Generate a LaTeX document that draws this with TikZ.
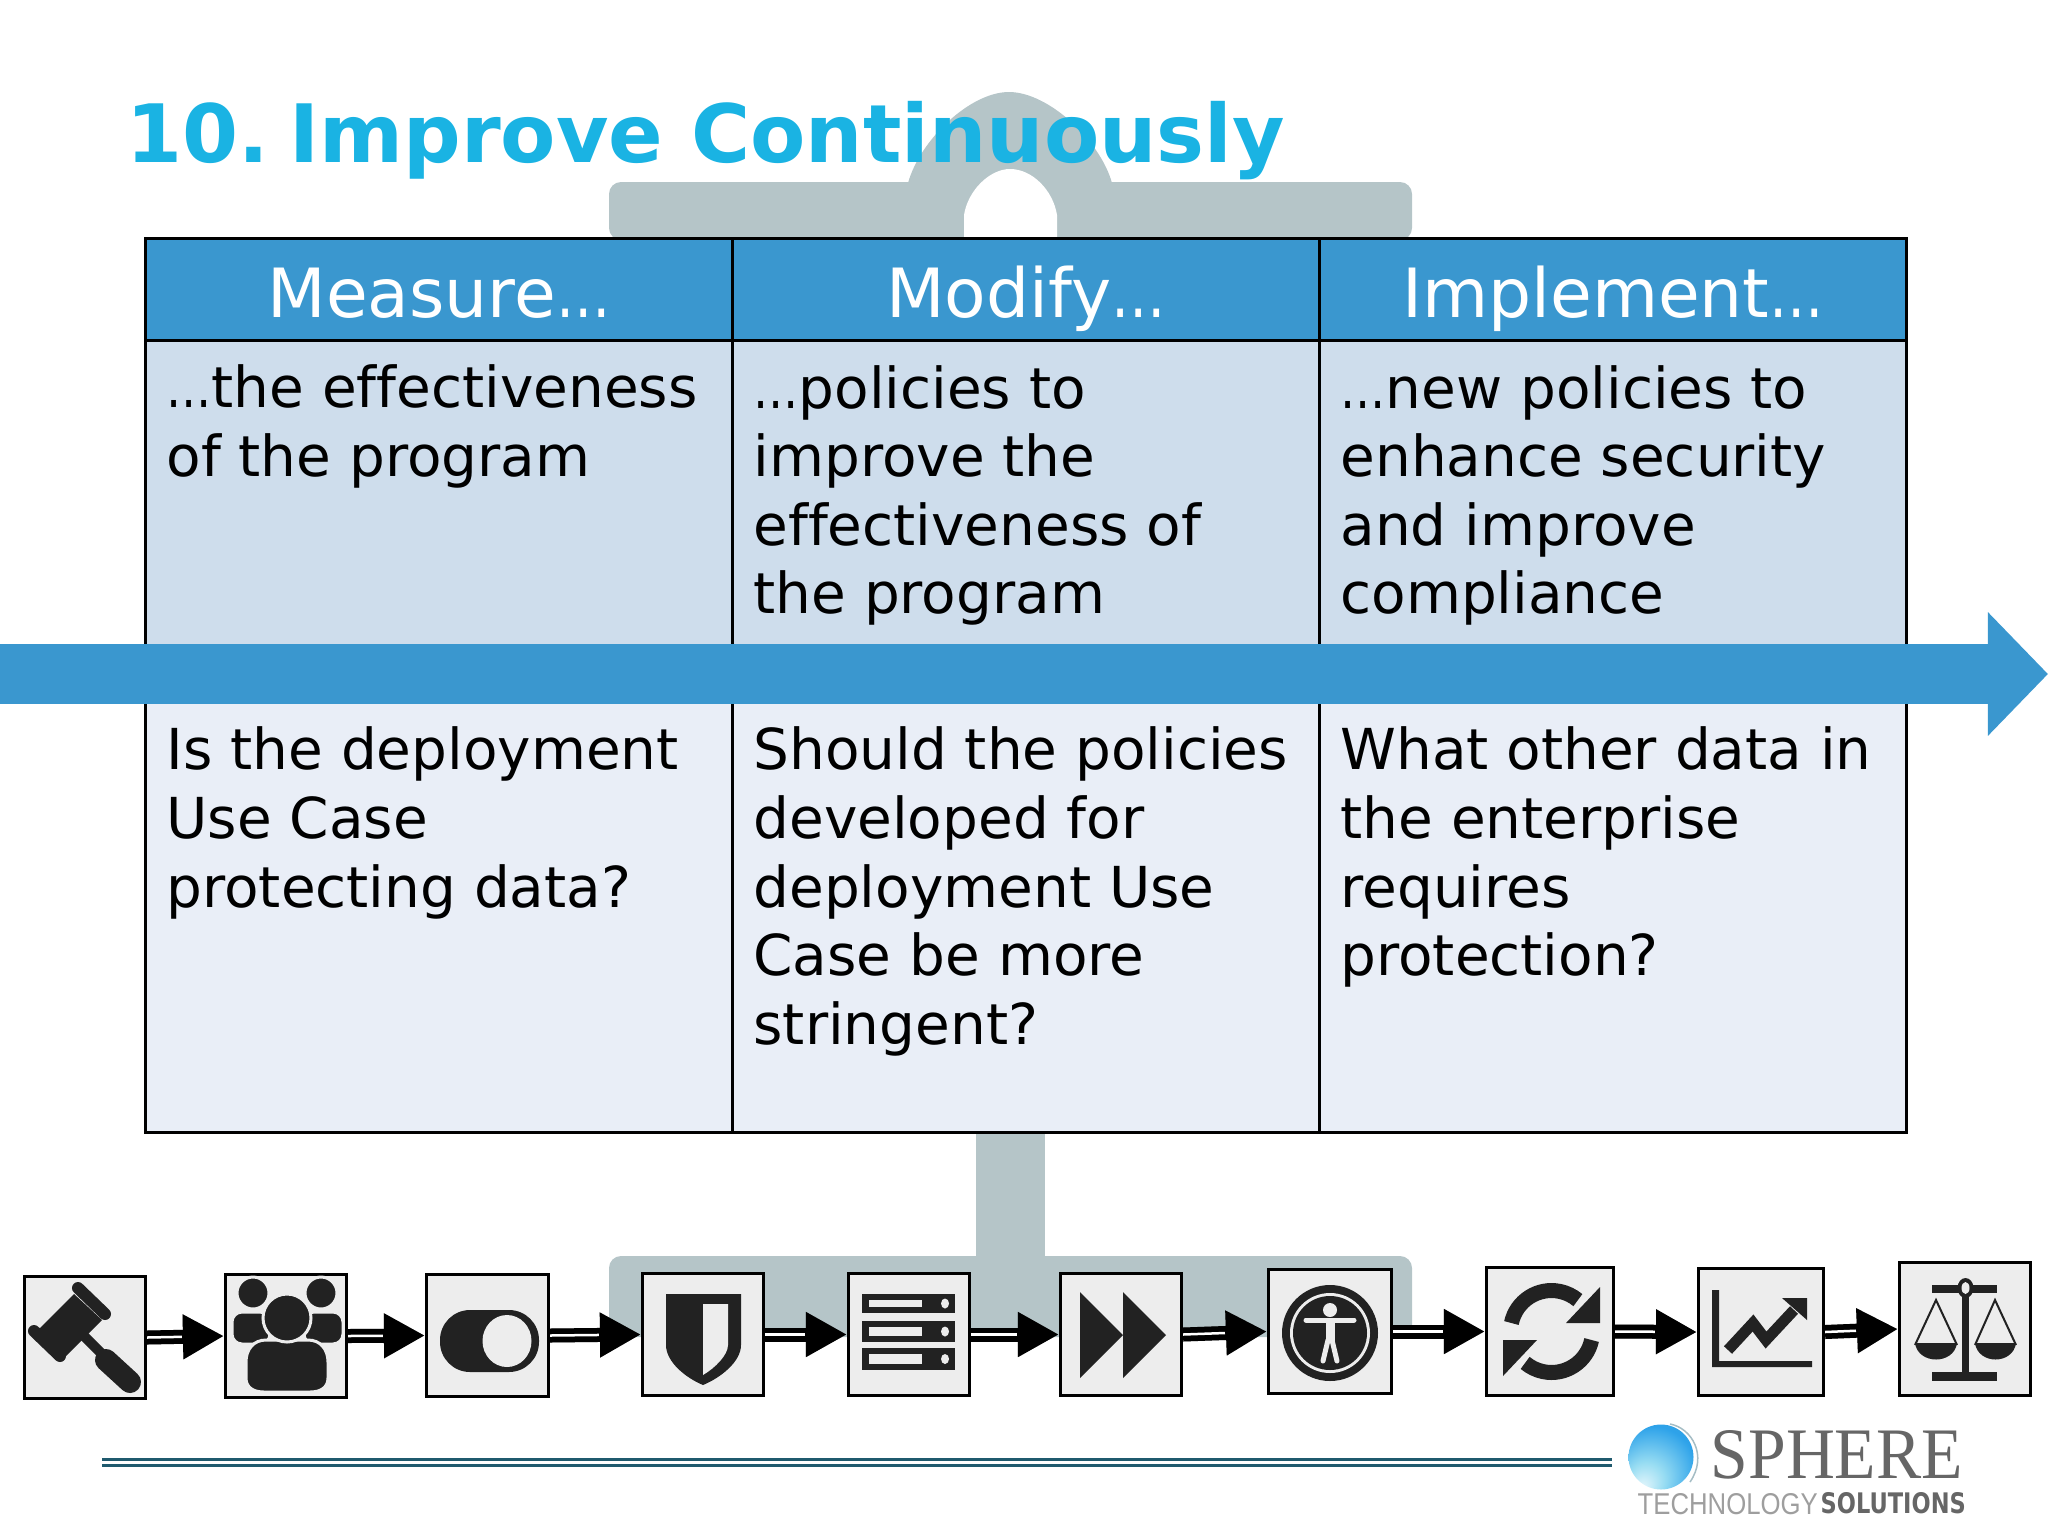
\documentclass[tikz,border=0pt]{standalone}
\usepackage{fontspec}
\setmainfont[Ligatures=NoCommon]{DejaVu Sans}
\newfontfamily\logoserif{Liberation Serif}
\newfontfamily\logosans{Liberation Sans}
\usetikzlibrary{arrows.meta}

\definecolor{titleblue}{HTML}{1AB3E3}
\definecolor{bandblue}{HTML}{3A97CF}
\definecolor{rowdark}{HTML}{CEDDEC}
\definecolor{rowlight}{HTML}{E9EEF7}
\definecolor{backdrop}{HTML}{B5C5C8}
\definecolor{iconbg}{HTML}{EDEDED}
\definecolor{glyphdark}{HTML}{222222}
\definecolor{ruleteal}{HTML}{1F5A6E}
\definecolor{logogray}{HTML}{666666}

\pgfdeclareradialshading{sphereglow}{\pgfpoint{-15bp}{-24bp}}{%
  color(0bp)=(titleblue!10!white); color(14bp)=(titleblue!45!white);
  color(34bp)=(titleblue!85!blue!90!white); color(60bp)=(bandblue)}

\newcommand{\shortdots}{\scalebox{.8}[1]{…}}

\tikzset{
  headcell/.style={draw=black,line width=.03cm,fill=bandblue,minimum width=5.87cm,minimum height=1.02cm,
    text=white,font=\fontsize{19.3}{23}\selectfont,inner sep=0pt,text height=.68cm,text depth=.14cm},
  bodycell/.style={draw=black,line width=.03cm,minimum width=5.87cm,inner sep=0pt},
  celltext/.style={anchor=north west,align=left,inner sep=0pt,font=\fontsize{16.05}{19.5}\selectfont,
    execute at begin node=\strut},
  iconbox/.style={draw=black,line width=.03cm,fill=iconbg,inner sep=0pt},
  glyph/.style={fill=glyphdark},
  halo/.style={fill=glyphdark,draw=iconbg,line width=.03cm},
  glyphline/.style={draw=glyphdark,line cap=round},
  flowarrow/.style={draw=black,line width=.14cm,-{Triangle[length=.41cm,width=.42cm]}},
  flowshadow/.style={flowarrow,draw=black!70,opacity=.18},
  flowthread/.style={draw=white,line width=.025cm,shorten >=.42cm}
}

\begin{document}
\begin{tikzpicture}[x=.01cm,y=-.01cm]
    \useasboundingbox (0,0) rectangle (2048,1536);

    % faded balance behind the table
    \fill[backdrop,rounded corners=.12cm] (609,240) -- (609,182) -- (1412,182) -- (1412,240) -- cycle;
    \fill[backdrop] (908,183) .. controls (920,140) and (970,92) .. (1009,92) .. controls (1048,92) and (1100,140) .. (1112,183) -- cycle;
    \fill[white] (964,240) -- (964,215) .. controls (968,190) and (990,169) .. (1010,169) .. controls (1032,169) and (1053,190) .. (1057,215) -- (1057,240) -- cycle;
    \fill[backdrop] (976,1130) rectangle (1045,1260);
    \fill[backdrop,rounded corners=.12cm] (609,1337) -- (609,1256) -- (1412,1256) -- (1412,1337) -- cycle;

    \node[anchor=base west,inner sep=0pt,text=titleblue,font=\fontsize{22.9}{28}\selectfont\bfseries] (title) at (126,162) {10.\hspace{-.17cm} Improve Continuously};

    % table
    \node[headcell] (measure) at (439,290) {Measure\shortdots};
    \node[headcell] (modify) at (1026,290) {Modify\shortdots};
    \node[headcell] (implement) at (1613,290) {Implement\shortdots};
    \foreach \col/\xc in {a/439,b/1026,c/1613} {
      \node[bodycell,fill=rowdark,minimum height=3.33cm] (\col top) at (\xc,507.5) {};
      \node[bodycell,fill=rowlight,minimum height=4.58cm] (\col low) at (\xc,903) {};
    }
    \node[celltext] (ameasure) at ([shift={(22,25)}]atop.north west) {\shortdots the effectiveness\\of the program};
    \node[celltext] (bmodify) at ([shift={(22,25)}]btop.north west) {\shortdots policies to\\improve the\\effectiveness of\\the program};
    \node[celltext] (cimplement) at ([shift={(22,25)}]ctop.north west) {\shortdots new policies to\\enhance security\\and improve\\compliance};
    \node[celltext] (aquestion) at ([shift={(22,54)}]alow.north west) {Is the deployment\\Use Case\\protecting data?};
    \node[celltext] (bquestion) at ([shift={(22,54)}]blow.north west) {Should the policies\\developed for\\deployment Use\\Case be more\\stringent?};
    \node[celltext] (cquestion) at ([shift={(22,54)}]clow.north west) {What other data in\\the enterprise\\requires\\protection?};

    \coordinate (bandstart) at (0,674);
    \coordinate (bandend) at (2048,674);
    \draw[draw=bandblue,line width=.6cm,-{Triangle[length=.6cm,width=1.2cm]}] (bandstart) -- (bandend);

    % icon row
    \node[iconbox,minimum width=1.21cm,minimum height=1.22cm] (gavel) at (85,1337.5) {};
    \node[iconbox,minimum width=1.21cm,minimum height=1.23cm] (people) at (286,1336) {};
    \node[iconbox,minimum width=1.22cm,minimum height=1.22cm] (toggle) at (487.5,1335.5) {};
    \node[iconbox,minimum width=1.21cm,minimum height=1.22cm] (shield) at (703,1334.5) {};
    \node[iconbox,minimum width=1.21cm,minimum height=1.22cm] (servers) at (909,1334.5) {};
    \node[iconbox,minimum width=1.21cm,minimum height=1.22cm] (forward) at (1121,1334.5) {};
    \node[iconbox,minimum width=1.23cm,minimum height=1.24cm] (access) at (1330,1331.5) {};
    \node[iconbox,minimum width=1.27cm,minimum height=1.28cm] (sync) at (1550,1331.5) {};
    \node[iconbox,minimum width=1.25cm,minimum height=1.27cm] (chart) at (1761,1332) {};
    \node[iconbox,minimum width=1.31cm,minimum height=1.33cm] (balance) at (1965,1329) {};

    \foreach \from/\to/\off in {gavel/people/-4,people/toggle/-4,toggle/shield/-4,shield/servers/-4,servers/forward/4,
                                forward/access/-4,access/sync/4,sync/chart/4,chart/balance/-4} {
      \foreach \drop in {4,7,10} {
        \draw[flowshadow,shift={(2,\drop)}] (\from.east) -- (\to.west);
      }
      \draw[flowarrow] (\from.east) -- (\to.west);
      \draw[flowthread,shift={(0,\off)}] (\from.east) -- (\to.west);
    }

    % gavel
    \fill[glyph] (74,1294) -- (102,1320) -- (66,1356) -- (38,1330) -- cycle;
    \draw[glyphline,line width=.12cm] (78,1288) -- (105,1314);
    \draw[glyphline,line width=.12cm] (34,1331) -- (60,1356);
    \draw[glyphline,line width=.1cm,line cap=butt] (78,1330) -- (102,1354);
    \draw[glyphline,line width=.22cm] (106,1360) -- (130,1382);

    % people
    \filldraw[halo,rounded corners=.1cm] (232,1312) rectangle (270,1344);
    \filldraw[halo,rounded corners=.1cm] (304,1312) rectangle (343,1344);
    \filldraw[halo] (253,1293) circle [radius=16];
    \filldraw[halo] (321,1293) circle [radius=16];
    \filldraw[halo] (246,1362) .. controls (246,1350) and (253,1340) .. (266,1340) -- (308,1340) .. controls (321,1340) and (328,1350) .. (328,1362)
      -- (328,1378) .. controls (328,1388) and (320,1392) .. (310,1392) -- (264,1392) .. controls (254,1392) and (246,1388) .. (246,1378) -- cycle;
    \filldraw[halo] (287,1318) circle [radius=24];

    % toggle
    \fill[glyph,rounded corners=.3cm] (440,1310) rectangle (539,1372);
    \fill[iconbg] (507,1341) ellipse [x radius=24.5,y radius=26];

    % shield
    \fill[glyph] (666,1294) -- (741,1294) -- (741,1345) .. controls (741,1362) and (720,1378) .. (703,1385)
      .. controls (686,1378) and (666,1362) .. (666,1345) -- cycle;
    \fill[iconbg] (703,1304) -- (728,1304) -- (728,1345) .. controls (728,1355) and (715,1368) .. (703,1375) -- cycle;

    % servers
    \foreach \ytop/\ybot in {1294/1313,1321/1342,1348/1370} {
      \fill[glyph] (862,\ytop) rectangle (955,\ybot);
      \fill[iconbg] (869,\ytop+6) rectangle (922,\ybot-6);
      \fill[iconbg] (945,\ytop/2+\ybot/2) ellipse [x radius=4,y radius=5];
    }

    % fast forward
    \fill[glyph] (1080,1292) -- (1123,1335) -- (1080,1378) -- cycle;
    \fill[glyph] (1123,1292) -- (1166,1335) -- (1123,1378) -- cycle;

    % accessibility
    \fill[glyph] (1330,1333) circle [radius=48];
    \fill[iconbg] (1330,1333) circle [radius=40];
    \fill[glyph] (1330,1333) circle [radius=37];
    \fill[iconbg] (1330,1310) circle [radius=7];
    \draw[draw=iconbg,line width=.05cm,line cap=round] (1306,1320) -- (1354,1320);
    \draw[draw=iconbg,line width=.09cm,line cap=butt] (1330,1320) -- (1330,1342);
    \draw[draw=iconbg,line width=.05cm,line cap=round] (1328,1340) -- (1323,1361);
    \draw[draw=iconbg,line width=.05cm,line cap=round] (1332,1340) -- (1337,1361);

    % sync
    \foreach \turn in {0,180} {
      \begin{scope}[rotate around={\turn:(1551.5,1331.5)}]
        \draw[draw=glyphdark,line width=.15cm] (1511.4,1323) arc [start angle=192,end angle=310,radius=41];
        \fill[glyph] (1600,1287) -- (1600,1323) -- (1566,1323) -- cycle;
      \end{scope}
    }

    % chart
    \fill[glyph] (1712,1290) -- (1719,1290) -- (1719,1361) -- (1812,1361) -- (1812,1367) -- (1712,1367) -- cycle;
    \draw[draw=glyphdark,line width=.11cm,line join=miter] (1728,1350) -- (1753,1323) -- (1766,1340) -- (1794,1310);
    \fill[glyph] (1807,1298) -- (1782,1298) -- (1807,1320) -- cycle;

    % balance
    \fill[glyph] (1932,1285) rectangle (1997,1293);
    \fill[glyph] (1962,1288) rectangle (1969,1375);
    \fill[glyph] (1932,1372) rectangle (1997,1381);
    \fill[glyph] (1965.5,1288) ellipse [x radius=8,y radius=10];
    \fill[iconbg] (1965.5,1288) ellipse [x radius=4,y radius=6];
    \foreach \xa/\xb/\xc in {1915/1936/1957,1975/1995/2016} {
      \draw[draw=glyphdark,line width=.02cm] (\xa,1345) -- (\xb,1300) -- (\xc,1345);
      \fill[glyph] (\xa,1343) .. controls (\xa+3,1365) and (\xc-3,1365) .. (\xc,1343) -- cycle;
    }

    % footer
    \coordinate (ruleleft) at (102,1462);
    \coordinate (ruleright) at (1612,1462);
    \draw[draw=ruleteal,line width=.03cm,double=white,double distance=.03cm] (ruleleft) -- (ruleright);

    \shade[shading=sphereglow] (1661,1457) circle [radius=32.5];
    \draw[draw=ruleteal!40,line width=.015cm] (1670,1424) .. controls (1692,1428) and (1708,1456) .. (1690,1482);
    \node[anchor=south west,inner sep=0pt,text=logogray] (sphere) at (1710,1480) {\resizebox{2.52cm}{.48cm}{\logoserif SPHERE}};
    \node[anchor=south west,inner sep=0pt,text=black!38] (technology) at (1637,1515) {\resizebox{1.8cm}{.21cm}{\logosans TECHNOLOGY}};
    \node[anchor=south west,inner sep=0pt,text=logogray] (solutions) at (1820,1515) {\resizebox{1.45cm}{.21cm}{\bfseries SOLUTIONS}};
  \end{tikzpicture}
\end{document}
